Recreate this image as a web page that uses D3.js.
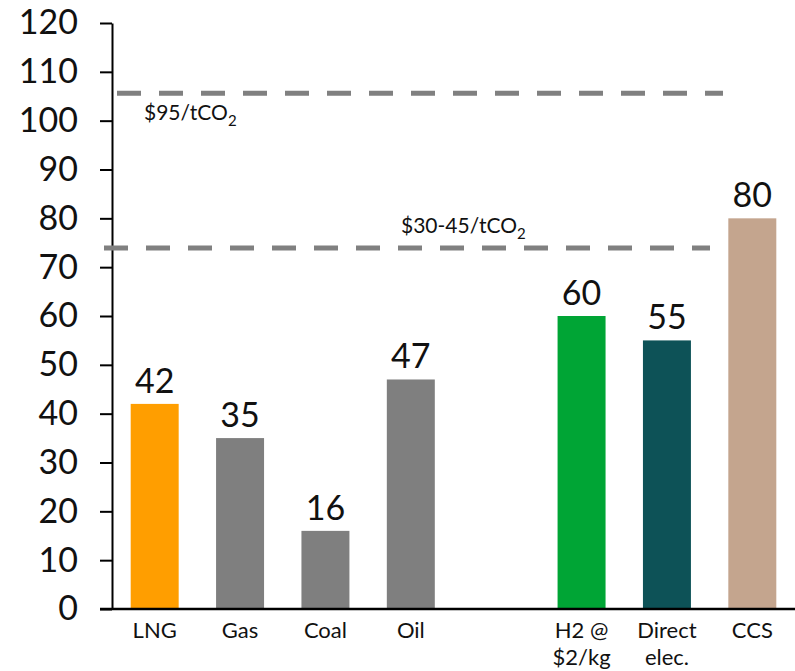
<!DOCTYPE html>
<html>
<head>
<meta charset="utf-8">
<script src="https://cdn.jsdelivr.net/npm/d3@7"></script>
<style>
  body { margin: 0; background: #fff; }
  svg text { font-family: Lato, "Noto Sans", sans-serif; font-weight: 400; fill: #111; }
</style>
</head>
<body>
<svg width="795" height="671"></svg>
<script>
// categories, a blank slot sits between Oil and H2
const categories = ["LNG", "Gas", "Coal", "Oil", "", "H2 @\n$2/kg", "Direct\nelec.", "CCS"];
const values = [42, 35, 16, 47, null, 60, 55, 80];
const barColors = ["#ff9e00", "#7f7f7f", "#7f7f7f", "#7f7f7f", null, "#00a535", "#0d5257", "#c4a58e"];
const yTicks = [0, 10, 20, 30, 40, 50, 60, 70, 80, 90, 100, 110, 120];
// carbon price reference lines
const refValues = [105.6, 73.9];
const refLabels = ["$95/tCO", "$30-45/tCO"];

const svg = d3.select("svg");

const x = d3.scaleBand()
  .domain(d3.range(categories.length))
  .range([112, 795])
  .paddingInner(0.438)
  .paddingOuter(0.219);

const y = d3.scaleLinear().domain([0, 120]).range([609, 23]);

// y axis
const yAxis = svg.append("g")
  .attr("transform", "translate(112,0)")
  .call(d3.axisLeft(y).tickValues(yTicks).tickSize(12).tickSizeOuter(0).tickPadding(22));
yAxis.select(".domain").attr("stroke", "#000").attr("stroke-width", 2);
yAxis.selectAll(".tick line").attr("stroke", "#000").attr("stroke-width", 2);
yAxis.selectAll(".tick text")
  .style("font-size", "34px")
  .style("font-family", "Lato, 'Noto Sans', sans-serif")
  .attr("fill", "#111");

// bars
const bars = categories.map((c, i) => ({ c, v: values[i], col: barColors[i], i })).filter(d => d.v != null);

svg.selectAll("rect.bar")
  .data(bars)
  .enter()
  .append("rect")
  .attr("class", "bar")
  .attr("x", d => x(d.i))
  .attr("width", x.bandwidth())
  .attr("y", d => y(d.v))
  .attr("height", d => y(0) - y(d.v))
  .attr("fill", d => d.col);

svg.selectAll("text.val")
  .data(bars)
  .enter()
  .append("text")
  .attr("class", "val")
  .attr("x", d => x(d.i) + x.bandwidth() / 2)
  .attr("y", d => y(d.v) - 11)
  .attr("text-anchor", "middle")
  .style("font-size", "34px")
  .text(d => d.v);

// baseline
svg.append("line")
  .attr("x1", 100).attr("x2", 795)
  .attr("y1", y(0)).attr("y2", y(0))
  .attr("stroke", "#000").attr("stroke-width", 2.5);

// category labels
const xl = svg.selectAll("text.cat")
  .data(bars)
  .enter()
  .append("text")
  .attr("class", "cat")
  .attr("text-anchor", "middle")
  .style("font-size", "22px");
xl.each(function(d) {
  const lines = d.c.split("\n");
  lines.forEach((t, k) => {
    d3.select(this).append("tspan")
      .attr("x", x(d.i) + x.bandwidth() / 2)
      .attr("y", 638 + k * 27)
      .text(t);
  });
});

// dashed reference lines
const refX = [[117, 723], [104, 710]];
const labelPos = [[144, 120], [401, 233]];
refValues.forEach((v, k) => {
  svg.append("line")
    .attr("x1", refX[k][0]).attr("x2", refX[k][1])
    .attr("y1", y(v)).attr("y2", y(v))
    .attr("stroke", "#808080")
    .attr("stroke-width", 5)
    .attr("stroke-dasharray", "24 18");
  const t = svg.append("text")
    .attr("x", labelPos[k][0])
    .attr("y", labelPos[k][1])
    .style("font-size", "21px")
    .text(refLabels[k]);
  t.append("tspan")
    .attr("dy", 6)
    .style("font-size", "15px")
    .text("2");
});
</script>
</body>
</html>
